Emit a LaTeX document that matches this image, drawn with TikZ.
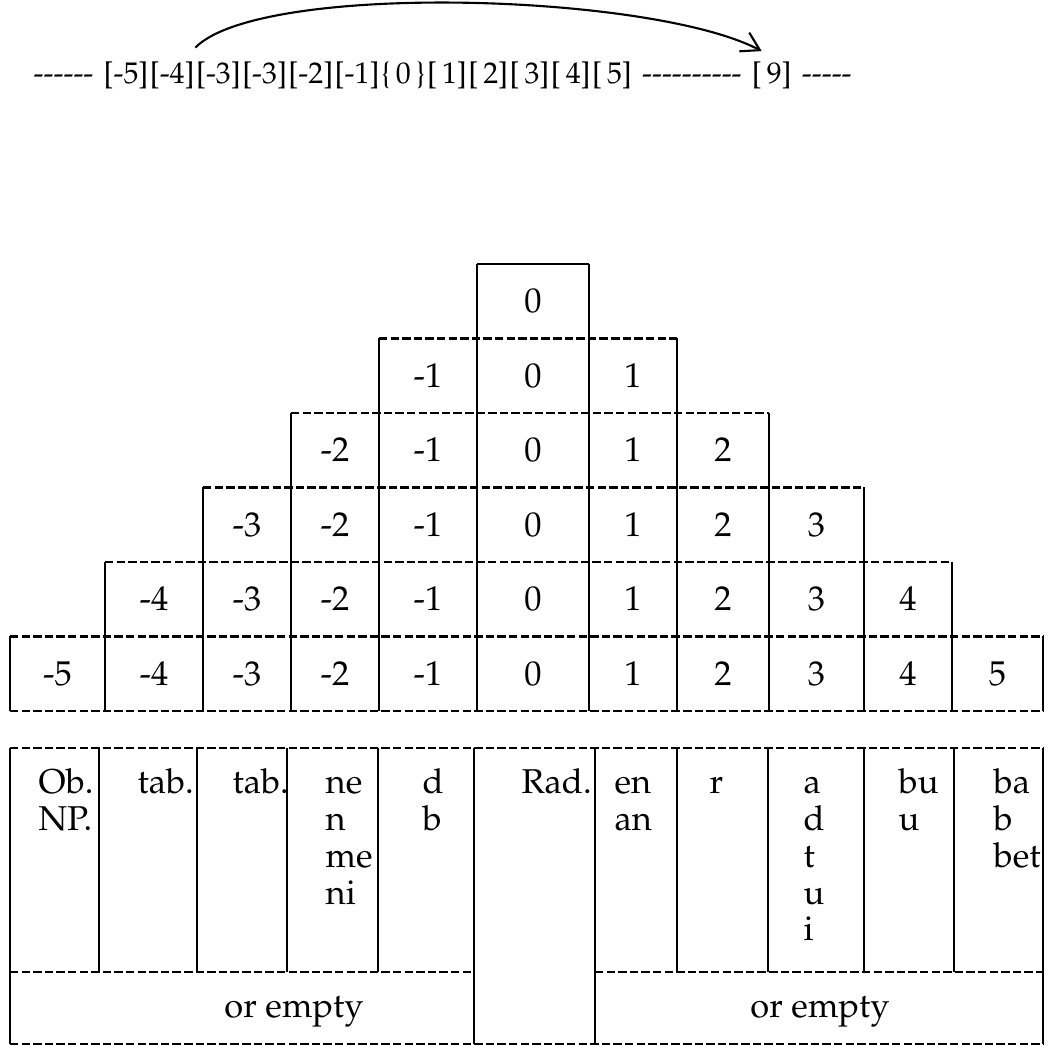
\documentclass[tikz,border=0pt]{standalone}
\usepackage[T1]{fontenc}
\usepackage{mathpazo}
\usetikzlibrary{positioning, arrows.meta}

\begin{document}
\begin{tikzpicture}[x=0.01cm, y=-0.01cm,
    hline/.style={line width=0.8pt, dash pattern=on 2.4pt off 0.9pt},
    vline/.style={line width=0.8pt},
    numtxt/.style={inner sep=0pt, font=\fontsize{9.8}{10}\selectfont},
    celltxt/.style={inner sep=0pt, anchor=base west, text width=1.8cm, align=left, font=\fontsize{9.8}{10.45}\selectfont},
    seqtxt/.style={inner sep=0pt, font=\fontsize{8.5}{9}\selectfont},
    jump/.style={line width=0.6pt, -{Straight Barb[length=5pt, width=6pt]}}]

    \useasboundingbox (0,0) rectangle (1053,1046);
    % column edges of the pyramid and of the lower table
    \def\colx{{10,105,203,291,379,477,589,677,769,864,952,1043}}
    \def\celx{{10,99,197,287,378,474,595,677,768,864,954,1043}}

    % line of slots at the top
    \node[seqtxt, anchor=base west] (lead) at (33,84) {-{}-{}-{}-{}-{}-};
    \node[seqtxt, base right=2.5pt of lead] (b1) {[-5]};
    \foreach \t [count=\i from 2] in {{[-4]},{[-3]},{[-3]},{[-2]},{[-1]},{\{\,0\,\}},{[\,1]},{[\,2]},{[\,3]},{[\,4]},{[\,5]}} {
        \pgfmathtruncatemacro\j{\i-1}
        \node[seqtxt, base right=0pt of b\j] (b\i) {\t};
    }
    \node[seqtxt, base right=2.5pt of b12] (gap) {-{}-{}-{}-{}-{}-{}-{}-{}-{}-};
    \node[seqtxt, base right=2.5pt of gap] (nine) {[\,9]};
    \node[seqtxt, base right=2.5pt of nine] (tail) {-{}-{}-{}-{}-};
    % jump arrow over the slots
    \draw[jump] ([yshift=4pt]b3.north west) .. controls +(65,-66) and +(-110,-58) .. ([xshift=3pt,yshift=3pt]nine.north west);

    % pyramid, one row after the other
    \foreach \r in {0,...,5} {
        \pgfmathtruncatemacro\lo{5-\r}
        \pgfmathtruncatemacro\hi{6+\r}
        \pgfmathtruncatemacro\hm{\hi-1}
        \pgfmathsetmacro\yt{264+74.5*\r}
        \pgfmathsetmacro\yb{\yt+74.5}
        \pgfmathsetmacro\xl{\colx[\lo]}
        \pgfmathsetmacro\xr{\colx[\hi]}
        \ifnum\r=0
            \draw[vline] (\xl,\yt) -- (\xr,\yt); % top of the single 0 box
        \else
            \draw[hline] (\xl,\yt) -- (\xr,\yt);
        \fi
        \foreach \k in {\lo,...,\hi} {
            \pgfmathsetmacro\xk{\colx[\k]}
            \draw[vline] (\xk,\yt) -- (\xk,\yb);
        }
        \foreach \k in {\lo,...,\hm} {
            \pgfmathtruncatemacro\kk{\k+1}
            \pgfmathsetmacro\xa{\colx[\k]}
            \pgfmathsetmacro\xb{\colx[\kk]}
            \pgfmathtruncatemacro\v{\k-5}
            \node[numtxt] (p\r-\k) at ({(\xa+\xb)/2},\yt+37) {\v};
        }
    }
    \draw[hline] (10,711) -- (1043,711); % bottom of the pyramid

    % lower table: frame and split lines
    \draw[hline] (10,748) -- (1043,748);
    \draw[hline] (10,972) -- (474,972);
    \draw[hline] (595,972) -- (1043,972);
    \draw[hline] (10,1044) -- (1043,1044);
    \foreach \k in {0,5,6,11} {
        \pgfmathsetmacro\xk{\celx[\k]}
        \draw[vline] (\xk,748) -- (\xk,1044);
    }
    \foreach \k in {1,2,3,4,7,8,9,10} {
        \pgfmathsetmacro\xk{\celx[\k]}
        \draw[vline] (\xk,748) -- (\xk,972);
    }

    % cell entries
    \foreach \x/\t [count=\i] in {38/{Ob.\\NP.}, 137/{tab.}, 232/{tab.}, 325/{ne\\n\\me\\ni}, 422/{d\\b},
        521/{Rad.}, 614/{en\\an}, 709/{r}, 803/{a\\d\\t\\u\\i}, 898/{bu\\u}, 993/{ba\\b\\bet}} {
        \node[celltxt] (c\i) at (\x,794) {\t};
    }
    \node[numtxt, anchor=base] (empty1) at (294,1018) {or empty};
    \node[numtxt, anchor=base] (empty2) at (820,1018) {or empty};
\end{tikzpicture}
\end{document}
